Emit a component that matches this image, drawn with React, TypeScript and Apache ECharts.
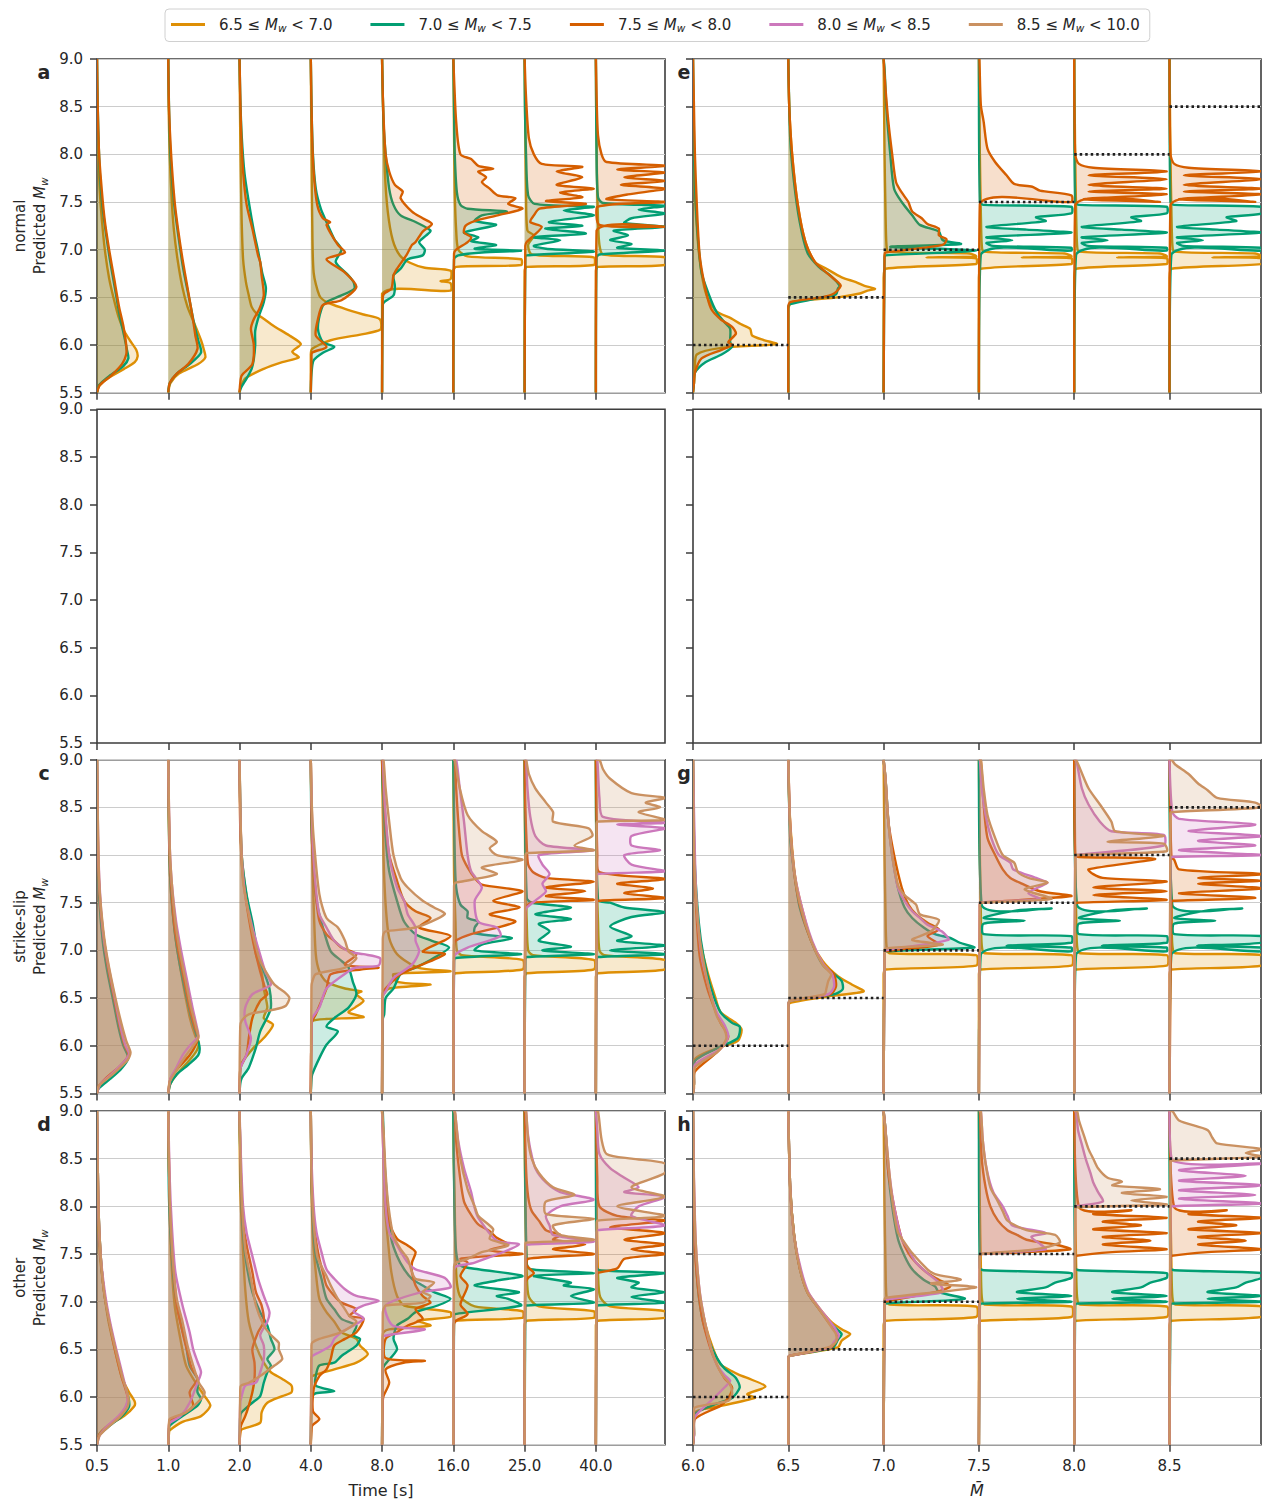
import React, { useEffect, useRef } from "react";
import * as echarts from "echarts";

type Curve = [number, number, number[]]; // [slot, class, flat list of (predicted Mw, density width)]

const CLASS_COLORS = ["#de8f05", "#029e73", "#d55e00", "#cc78bc", "#ca9161"];
const CLASS_BOUNDS = [["6.5", "7.0"], ["7.0", "7.5"], ["7.5", "8.0"], ["8.0", "8.5"], ["8.5", "10.0"]];
const TIME_LABELS = ["0.5", "1.0", "2.0", "4.0", "8.0", "16.0", "25.0", "40.0"];
const MAG_LABELS = ["6.0", "6.5", "7.0", "7.5", "8.0", "8.5"];
const TRUE_MAG = [6.0, 6.5, 7.0, 7.5, 8.0, 8.5];
const ROW_NAMES = ["normal", "", "strike-slip", "other"];
const LETTERS = [["a", "e"], ["", ""], ["c", "g"], ["d", "h"]];

// shared shapes of the magnitude panels
const sharpOrangeE = [6.7, 0, 6.8, 0.02, 6.85, 0.97, 6.91, 0.97, 6.92, 0.45, 6.93, 0.97, 6.96, 0.9, 6.98, 0.05, 7.05, 0.03, 7.4, 0.02, 8.0, 0.01];
const greenSpikeE = [6.95, 0.02, 6.99, 0.97, 7.02, 0.97, 7.04, 0.15, 7.07, 0.08, 7.1, 0.35, 7.13, 0.08, 7.18, 0.97, 7.21, 0.5, 7.24, 0.08, 7.3, 0.7, 7.34, 0.6, 7.38, 0.97, 7.45, 0.97, 7.47, 0.05, 7.5, 0.01];
const redSpikeE = [7.47, 0.01, 7.5, 0.9, 7.53, 0.1, 7.58, 0.97, 7.61, 0.15, 7.64, 0.97, 7.68, 0.15, 7.74, 0.97, 7.78, 0.15, 7.82, 0.97, 7.86, 0.2, 7.9, 0.05, 8.0, 0.01];
const sharpOrangeG = [6.75, 0, 6.8, 0.02, 6.84, 0.97, 6.95, 0.97, 6.97, 0.06, 7.05, 0.03, 7.4, 0.02, 8.0, 0.01];
const greenSpikeG = [6.96, 0.02, 6.99, 0.97, 7.03, 0.97, 7.05, 0.29, 7.08, 0.97, 7.15, 0.97, 7.17, 0.05, 7.28, 0.05, 7.31, 0.48, 7.34, 0.05, 7.42, 0.4, 7.44, 0.76, 7.47, 0.03];
const redSpikeG = [7.48, 0.01, 7.5, 0.03, 7.53, 0.97, 7.58, 0.2, 7.62, 0.97, 7.66, 0.2, 7.72, 0.97, 7.76, 0.3, 7.8, 0.2, 7.85, 0.15, 7.96, 0.85, 7.98, 0.05, 8.0, 0.01];
const greenBlockH = [6.95, 0.01, 6.98, 0.02, 7.0, 0.97, 7.03, 0.4, 7.06, 0.97, 7.1, 0.4, 7.15, 0.7, 7.2, 0.8, 7.25, 0.97, 7.3, 0.97, 7.33, 0.05, 7.35, 0.01];
const redSpikeH = [7.46, 0.01, 7.48, 0.02, 7.52, 0.4, 7.55, 0.97, 7.6, 0.3, 7.64, 0.8, 7.68, 0.3, 7.72, 0.97, 7.76, 0.2, 7.8, 0.7, 7.84, 0.3, 7.88, 0.97, 7.92, 0.2, 7.96, 0.6, 7.99, 0.05];
const sharpOrangeT = [6.72, 0, 6.76, 0.03, 6.8, 0.97, 6.9, 0.97, 6.95, 0.12, 7.0, 0.05, 7.3, 0.03, 7.8, 0.01];

const normalTime: Curve[] = [
  [0, 0, [5.57, 0.03, 5.65, 0.15, 5.75, 0.38, 5.82, 0.53, 5.88, 0.57, 5.95, 0.55, 6.05, 0.46, 6.15, 0.38, 6.3, 0.3, 6.5, 0.23, 6.7, 0.17, 7.0, 0.11, 7.3, 0.07, 7.6, 0.04, 8.0, 0.02, 8.5, 0.005]],
  [0, 1, [5.58, 0.03, 5.68, 0.18, 5.78, 0.37, 5.86, 0.44, 5.95, 0.42, 6.1, 0.38, 6.3, 0.32, 6.6, 0.25, 6.9, 0.18, 7.2, 0.12, 7.5, 0.07, 7.8, 0.04, 8.2, 0.02, 8.7, 0.005]],
  [0, 2, [5.58, 0.04, 5.68, 0.2, 5.8, 0.35, 5.9, 0.41, 6.0, 0.41, 6.2, 0.37, 6.4, 0.31, 6.7, 0.24, 7.0, 0.17, 7.3, 0.11, 7.6, 0.07, 8.0, 0.03, 8.5, 0.01]],
  [1, 0, [5.6, 0.03, 5.7, 0.15, 5.8, 0.42, 5.87, 0.52, 5.95, 0.5, 6.05, 0.46, 6.2, 0.38, 6.4, 0.27, 6.6, 0.2, 6.9, 0.13, 7.2, 0.08, 7.5, 0.05, 8.0, 0.02, 8.5, 0.005]],
  [1, 1, [5.6, 0.02, 5.7, 0.12, 5.8, 0.3, 5.92, 0.46, 6.05, 0.42, 6.2, 0.37, 6.5, 0.29, 6.8, 0.21, 7.1, 0.15, 7.5, 0.08, 8.0, 0.03, 8.5, 0.01]],
  [1, 2, [5.6, 0.02, 5.7, 0.12, 5.8, 0.28, 5.96, 0.41, 6.1, 0.38, 6.3, 0.34, 6.6, 0.27, 6.9, 0.2, 7.2, 0.14, 7.5, 0.09, 8.0, 0.04, 8.5, 0.01]],
  [2, 0, [5.55, 0.01, 5.65, 0.08, 5.75, 0.34, 5.82, 0.6, 5.87, 0.83, 5.93, 0.74, 6.01, 0.86, 6.1, 0.7, 6.2, 0.48, 6.27, 0.35, 6.33, 0.24, 6.4, 0.17, 6.52, 0.13, 6.66, 0.09, 6.9, 0.05, 7.3, 0.03, 7.7, 0.02, 8.2, 0.01]],
  [2, 1, [5.55, 0.02, 5.65, 0.1, 5.75, 0.17, 5.85, 0.2, 6.0, 0.22, 6.15, 0.22, 6.3, 0.27, 6.45, 0.34, 6.6, 0.37, 6.75, 0.32, 6.95, 0.27, 7.2, 0.2, 7.5, 0.13, 7.8, 0.07, 8.2, 0.03, 8.6, 0.01]],
  [2, 2, [5.6, 0.01, 5.68, 0.03, 5.8, 0.18, 6.0, 0.2, 6.17, 0.16, 6.27, 0.2, 6.38, 0.28, 6.52, 0.34, 6.73, 0.31, 6.87, 0.29, 6.94, 0.26, 7.22, 0.18, 7.47, 0.1, 7.82, 0.05, 8.3, 0.02]],
  [3, 0, [5.9, 0, 5.96, 0.02, 6.05, 0.28, 6.16, 0.97, 6.27, 0.97, 6.32, 0.74, 6.38, 0.48, 6.45, 0.22, 6.52, 0.12, 6.76, 0.04, 7.3, 0.02, 8.0, 0.01]],
  [3, 1, [5.7, 0.01, 5.84, 0.04, 5.92, 0.17, 5.98, 0.33, 6.03, 0.17, 6.17, 0.1, 6.38, 0.15, 6.45, 0.22, 6.52, 0.43, 6.59, 0.61, 6.66, 0.6, 6.73, 0.53, 6.87, 0.35, 7.0, 0.43, 7.11, 0.33, 7.29, 0.22, 7.43, 0.14, 7.64, 0.07, 8.0, 0.03, 8.5, 0.01]],
  [3, 2, [5.85, 0.01, 5.92, 0.02, 5.98, 0.22, 6.1, 0.07, 6.27, 0.1, 6.42, 0.17, 6.47, 0.43, 6.61, 0.64, 6.76, 0.48, 6.9, 0.22, 6.97, 0.48, 7.05, 0.38, 7.26, 0.22, 7.29, 0.27, 7.33, 0.17, 7.47, 0.09, 7.82, 0.04, 8.3, 0.015]],
  [4, 0, [6.54, 0, 6.57, 0.96, 6.65, 0.96, 6.67, 0.82, 6.69, 0.96, 6.78, 0.96, 6.81, 0.6, 6.86, 0.4, 6.94, 0.25, 7.1, 0.15, 7.4, 0.08, 7.8, 0.04, 8.3, 0.02]],
  [4, 1, [6.42, 0.01, 6.45, 0.03, 6.52, 0.16, 6.62, 0.18, 6.73, 0.16, 6.8, 0.26, 6.9, 0.36, 6.94, 0.57, 7.0, 0.6, 7.08, 0.52, 7.15, 0.62, 7.2, 0.68, 7.29, 0.47, 7.36, 0.26, 7.47, 0.16, 7.64, 0.1, 8.0, 0.05, 8.34, 0.02, 8.8, 0.005]],
  [4, 2, [6.5, 0.01, 6.54, 0.03, 6.59, 0.13, 6.73, 0.16, 6.8, 0.21, 6.94, 0.34, 7.05, 0.42, 7.08, 0.47, 7.19, 0.57, 7.27, 0.7, 7.33, 0.57, 7.4, 0.42, 7.54, 0.26, 7.61, 0.29, 7.68, 0.18, 7.82, 0.1, 8.0, 0.05, 8.5, 0.015]],
  [5, 0, [6.78, 0, 6.82, 0.04, 6.84, 0.95, 6.9, 0.95, 6.93, 0.2, 7.0, 0.07, 7.2, 0.04, 7.6, 0.02, 8.2, 0.01]],
  [5, 1, [6.9, 0.01, 6.94, 0.07, 6.97, 0.4, 6.99, 0.95, 7.01, 0.3, 7.05, 0.6, 7.09, 0.25, 7.13, 0.35, 7.18, 0.15, 7.26, 0.6, 7.3, 0.3, 7.36, 0.4, 7.4, 0.75, 7.43, 0.2, 7.47, 0.1, 7.6, 0.05, 8.0, 0.02, 8.5, 0.01]],
  [5, 2, [6.96, 0.01, 7.0, 0.04, 7.08, 0.2, 7.13, 0.25, 7.18, 0.15, 7.25, 0.17, 7.3, 0.3, 7.36, 0.62, 7.43, 0.97, 7.48, 0.77, 7.54, 0.87, 7.57, 0.62, 7.64, 0.51, 7.71, 0.4, 7.76, 0.46, 7.82, 0.35, 7.85, 0.56, 7.88, 0.35, 7.95, 0.25, 8.0, 0.1, 8.34, 0.04, 8.8, 0.01]],
  [6, 0, [6.78, 0, 6.82, 0.03, 6.84, 0.97, 6.92, 0.97, 6.95, 0.1, 7.05, 0.05, 7.15, 0.13, 7.2, 0.04, 7.6, 0.02, 8.2, 0.01]],
  [6, 1, [6.92, 0.01, 6.94, 0.03, 6.98, 0.97, 7.01, 0.3, 7.04, 0.13, 7.1, 0.5, 7.13, 0.13, 7.17, 0.86, 7.22, 0.29, 7.25, 0.81, 7.29, 0.34, 7.36, 0.97, 7.41, 0.55, 7.45, 0.97, 7.48, 0.14, 7.57, 0.05, 8.0, 0.02, 8.5, 0.005]],
  [6, 2, [7.04, 0.01, 7.08, 0.03, 7.15, 0.13, 7.24, 0.24, 7.29, 0.08, 7.36, 0.13, 7.43, 0.21, 7.48, 0.86, 7.51, 0.3, 7.55, 0.81, 7.6, 0.5, 7.64, 0.97, 7.68, 0.45, 7.76, 0.81, 7.82, 0.45, 7.87, 0.81, 7.9, 0.24, 8.0, 0.13, 8.17, 0.06, 8.6, 0.02]],
  [7, 0, [6.78, 0, 6.82, 0.03, 6.84, 0.97, 6.92, 0.97, 6.95, 0.1, 7.05, 0.05, 7.3, 0.03, 7.8, 0.015, 8.4, 0.005]],
  [7, 1, [6.92, 0.01, 6.95, 0.05, 6.99, 0.97, 7.02, 0.3, 7.06, 0.5, 7.1, 0.2, 7.15, 0.45, 7.2, 0.25, 7.24, 0.97, 7.28, 0.4, 7.33, 0.5, 7.38, 0.97, 7.42, 0.6, 7.46, 0.97, 7.49, 0.1, 7.55, 0.03, 8.0, 0.01]],
  [7, 2, [7.2, 0.01, 7.24, 0.97, 7.26, 0.05, 7.45, 0.02, 7.5, 0.97, 7.53, 0.15, 7.58, 0.45, 7.64, 0.97, 7.68, 0.35, 7.72, 0.97, 7.76, 0.4, 7.81, 0.97, 7.84, 0.3, 7.88, 0.97, 7.92, 0.15, 8.0, 0.08, 8.2, 0.03, 8.6, 0.01]],
];

const normalMag: Curve[] = [
  [0, 0, [5.6, 0.01, 5.75, 0.02, 5.9, 0.04, 5.97, 0.3, 6.01, 0.88, 6.05, 0.75, 6.1, 0.62, 6.17, 0.6, 6.22, 0.5, 6.28, 0.4, 6.35, 0.25, 6.5, 0.15, 6.75, 0.09, 7.1, 0.05, 7.6, 0.02, 8.2, 0.01]],
  [0, 1, [5.6, 0.01, 5.71, 0.02, 5.82, 0.13, 5.9, 0.3, 5.98, 0.41, 6.03, 0.39, 6.17, 0.39, 6.24, 0.33, 6.34, 0.25, 6.52, 0.17, 6.76, 0.09, 7.29, 0.04, 8.0, 0.01]],
  [0, 2, [5.6, 0.01, 5.71, 0.02, 5.86, 0.09, 5.95, 0.3, 6.0, 0.41, 6.03, 0.37, 6.12, 0.45, 6.19, 0.41, 6.27, 0.29, 6.38, 0.19, 6.59, 0.13, 6.94, 0.07, 7.47, 0.04, 8.0, 0.02, 8.5, 0.01]],
  [1, 0, [6.38, 0, 6.45, 0.04, 6.5, 0.52, 6.54, 0.75, 6.57, 0.83, 6.59, 0.91, 6.62, 0.8, 6.66, 0.71, 6.71, 0.56, 6.8, 0.4, 6.87, 0.28, 7.08, 0.18, 7.47, 0.1, 8.0, 0.04, 8.5, 0.01]],
  [1, 1, [6.4, 0, 6.43, 0.02, 6.5, 0.35, 6.53, 0.5, 6.59, 0.52, 6.62, 0.54, 6.73, 0.44, 6.82, 0.32, 6.97, 0.2, 7.29, 0.12, 7.71, 0.06, 8.17, 0.02]],
  [1, 2, [6.4, 0, 6.45, 0.02, 6.5, 0.35, 6.54, 0.48, 6.62, 0.55, 6.66, 0.52, 6.76, 0.4, 6.87, 0.28, 7.08, 0.18, 7.47, 0.1, 8.0, 0.04, 8.5, 0.01]],
  [2, 0, sharpOrangeE],
  [2, 1, [6.92, 0.01, 6.94, 0.02, 6.99, 0.97, 7.03, 0.07, 7.06, 0.81, 7.1, 0.62, 7.19, 0.58, 7.26, 0.38, 7.36, 0.3, 7.5, 0.19, 7.64, 0.11, 8.0, 0.07, 8.48, 0.03, 8.9, 0.01]],
  [2, 2, [6.95, 0.01, 6.97, 0.02, 7.05, 0.62, 7.11, 0.66, 7.15, 0.58, 7.22, 0.58, 7.27, 0.46, 7.33, 0.4, 7.4, 0.3, 7.5, 0.26, 7.6, 0.19, 7.71, 0.13, 8.0, 0.09, 8.34, 0.05, 8.69, 0.02]],
  [3, 0, sharpOrangeE],
  [3, 1, greenSpikeE],
  [3, 2, [7.48, 0.01, 7.5, 0.97, 7.57, 0.97, 7.62, 0.64, 7.66, 0.56, 7.69, 0.37, 7.78, 0.29, 7.92, 0.17, 8.06, 0.09, 8.34, 0.05, 8.52, 0.02, 9.0, 0.005]],
  [4, 0, sharpOrangeE],
  [4, 1, greenSpikeE],
  [4, 2, redSpikeE],
  [5, 0, sharpOrangeE],
  [5, 1, greenSpikeE],
  [5, 2, redSpikeE],
];

const strikeTime: Curve[] = [
  [0, 0, [5.55, 0.02, 5.65, 0.12, 5.75, 0.28, 5.85, 0.42, 5.9, 0.44, 6.0, 0.38, 6.2, 0.31, 6.5, 0.23, 6.8, 0.15, 7.1, 0.09, 7.5, 0.04, 8.0, 0.015]],
  [0, 1, [5.55, 0.02, 5.65, 0.18, 5.75, 0.33, 5.85, 0.43, 5.9, 0.43, 6.0, 0.37, 6.2, 0.3, 6.5, 0.22, 6.8, 0.14, 7.1, 0.08, 7.5, 0.035, 8.0, 0.01]],
  [0, 2, [5.57, 0.02, 5.67, 0.14, 5.77, 0.3, 5.87, 0.42, 5.92, 0.44, 6.0, 0.39, 6.2, 0.32, 6.5, 0.24, 6.8, 0.16, 7.1, 0.1, 7.5, 0.045, 8.0, 0.015]],
  [0, 3, [5.6, 0.05, 5.7, 0.2, 5.85, 0.4, 5.92, 0.45, 6.0, 0.4, 6.2, 0.33, 6.5, 0.25, 6.8, 0.17, 7.1, 0.1, 7.5, 0.05, 8.0, 0.02]],
  [0, 4, [5.58, 0.03, 5.7, 0.22, 5.85, 0.43, 5.93, 0.47, 6.05, 0.41, 6.3, 0.32, 6.6, 0.23, 6.9, 0.15, 7.2, 0.09, 7.6, 0.04, 8.0, 0.02]],
  [1, 0, [5.6, 0.03, 5.7, 0.12, 5.85, 0.3, 5.95, 0.4, 6.03, 0.43, 6.1, 0.38, 6.3, 0.3, 6.6, 0.22, 6.9, 0.15, 7.2, 0.09, 7.6, 0.04, 8.0, 0.015]],
  [1, 1, [5.6, 0.03, 5.7, 0.12, 5.8, 0.28, 5.9, 0.42, 5.98, 0.44, 6.1, 0.4, 6.3, 0.32, 6.6, 0.23, 6.9, 0.15, 7.2, 0.09, 7.6, 0.04, 8.0, 0.015]],
  [1, 2, [5.65, 0.03, 5.75, 0.12, 5.9, 0.3, 6.0, 0.38, 6.1, 0.42, 6.2, 0.37, 6.4, 0.3, 6.7, 0.22, 7.0, 0.14, 7.3, 0.08, 7.7, 0.04, 8.1, 0.015]],
  [1, 3, [5.65, 0.03, 5.78, 0.12, 5.9, 0.2, 6.0, 0.3, 6.1, 0.42, 6.2, 0.4, 6.4, 0.34, 6.7, 0.26, 7.0, 0.18, 7.3, 0.11, 7.7, 0.05, 8.1, 0.02]],
  [1, 4, [5.62, 0.02, 5.75, 0.12, 5.9, 0.25, 6.0, 0.35, 6.08, 0.42, 6.2, 0.39, 6.4, 0.32, 6.7, 0.24, 7.0, 0.16, 7.3, 0.1, 7.7, 0.05, 8.1, 0.02]],
  [2, 0, [5.75, 0.01, 5.82, 0.03, 5.98, 0.2, 6.08, 0.34, 6.22, 0.47, 6.29, 0.34, 6.4, 0.39, 6.6, 0.34, 6.78, 0.31, 6.96, 0.23, 7.3, 0.16, 7.66, 0.08, 8.0, 0.03, 8.5, 0.01]],
  [2, 1, [5.6, 0.01, 5.66, 0.03, 5.77, 0.13, 5.98, 0.23, 6.15, 0.29, 6.3, 0.39, 6.4, 0.44, 6.6, 0.42, 6.78, 0.34, 6.96, 0.26, 7.3, 0.18, 7.58, 0.1, 8.0, 0.03, 8.5, 0.01]],
  [2, 2, [5.75, 0.01, 5.8, 0.03, 5.91, 0.1, 6.08, 0.13, 6.29, 0.18, 6.47, 0.29, 6.54, 0.39, 6.6, 0.36, 6.78, 0.29, 6.96, 0.23, 7.13, 0.18, 7.48, 0.1, 7.83, 0.04, 8.3, 0.01]],
  [2, 3, [5.75, 0.01, 5.8, 0.03, 5.91, 0.1, 6.08, 0.16, 6.26, 0.08, 6.4, 0.08, 6.54, 0.18, 6.64, 0.44, 6.78, 0.36, 7.03, 0.26, 7.24, 0.18, 7.58, 0.08, 8.0, 0.03, 8.5, 0.01]],
  [2, 4, [6.2, 0.01, 6.26, 0.03, 6.33, 0.13, 6.38, 0.49, 6.42, 0.65, 6.5, 0.7, 6.55, 0.65, 6.64, 0.49, 6.75, 0.39, 6.89, 0.29, 7.1, 0.21, 7.38, 0.13, 7.72, 0.05, 8.2, 0.02]],
  [3, 0, [6.2, 0.01, 6.26, 0.02, 6.28, 0.22, 6.3, 0.74, 6.35, 0.53, 6.4, 0.62, 6.47, 0.74, 6.54, 0.64, 6.57, 0.71, 6.6, 0.48, 6.67, 0.22, 6.78, 0.12, 6.96, 0.07, 7.48, 0.04, 8.0, 0.02]],
  [3, 1, [5.65, 0.01, 5.7, 0.02, 5.87, 0.12, 6.01, 0.22, 6.15, 0.38, 6.2, 0.22, 6.29, 0.33, 6.4, 0.53, 6.54, 0.64, 6.67, 0.59, 6.82, 0.53, 6.89, 0.43, 6.99, 0.28, 7.24, 0.17, 7.48, 0.09, 7.83, 0.04, 8.3, 0.01]],
  [3, 2, [6.2, 0.01, 6.26, 0.02, 6.33, 0.07, 6.6, 0.22, 6.75, 0.28, 6.8, 0.7, 6.82, 0.95, 6.85, 0.48, 6.96, 0.64, 7.03, 0.43, 7.1, 0.33, 7.17, 0.22, 7.31, 0.12, 7.66, 0.06, 8.1, 0.02]],
  [3, 3, [6.22, 0.01, 6.29, 0.02, 6.4, 0.12, 6.6, 0.22, 6.78, 0.53, 6.82, 0.64, 6.84, 0.95, 6.92, 0.97, 6.96, 0.74, 6.99, 0.53, 7.1, 0.33, 7.24, 0.22, 7.38, 0.12, 7.66, 0.07, 8.1, 0.03, 8.6, 0.01]],
  [3, 4, [6.62, 0.01, 6.67, 0.02, 6.75, 0.07, 6.82, 0.48, 6.92, 0.64, 6.99, 0.53, 7.1, 0.48, 7.24, 0.38, 7.34, 0.22, 7.59, 0.12, 8.18, 0.04, 8.6, 0.01]],
  [4, 0, [6.5, 0.01, 6.54, 0.02, 6.6, 0.1, 6.64, 0.68, 6.67, 0.21, 6.75, 0.16, 6.78, 0.96, 6.82, 0.5, 6.96, 0.21, 7.13, 0.1, 7.48, 0.05, 8.0, 0.02]],
  [4, 1, [6.28, 0.01, 6.33, 0.03, 6.5, 0.05, 6.6, 0.16, 6.75, 0.26, 6.82, 0.47, 6.9, 0.68, 7.03, 0.94, 7.1, 0.7, 7.17, 0.47, 7.3, 0.31, 7.52, 0.21, 7.83, 0.1, 8.18, 0.05, 8.7, 0.01]],
  [4, 2, [6.55, 0.01, 6.6, 0.05, 6.75, 0.26, 6.96, 0.88, 6.99, 0.57, 7.15, 0.96, 7.24, 0.52, 7.34, 0.68, 7.41, 0.47, 7.52, 0.31, 7.73, 0.21, 8.0, 0.1, 8.35, 0.05, 8.8, 0.01]],
  [4, 3, [6.52, 0.01, 6.57, 0.05, 6.71, 0.16, 6.85, 0.42, 6.99, 0.52, 7.1, 0.47, 7.24, 0.47, 7.38, 0.36, 7.52, 0.31, 7.66, 0.21, 8.0, 0.1, 8.53, 0.04, 9.0, 0.01]],
  [4, 4, [7.12, 0.01, 7.17, 0.02, 7.2, 0.05, 7.24, 0.47, 7.38, 0.88, 7.45, 0.73, 7.52, 0.57, 7.66, 0.36, 7.76, 0.26, 8.0, 0.16, 8.35, 0.1, 8.7, 0.05, 9.0, 0.02]],
  [5, 0, sharpOrangeT],
  [5, 1, [6.88, 0.01, 6.92, 0.03, 6.96, 0.95, 7.0, 0.3, 7.06, 0.4, 7.13, 0.82, 7.18, 0.3, 7.24, 0.3, 7.3, 0.35, 7.34, 0.2, 7.41, 0.2, 7.48, 0.1, 7.66, 0.04, 8.0, 0.02]],
  [5, 2, [7.05, 0.01, 7.1, 0.03, 7.17, 0.25, 7.3, 0.87, 7.38, 0.51, 7.45, 0.93, 7.52, 0.56, 7.62, 0.97, 7.69, 0.4, 7.76, 0.3, 7.87, 0.2, 8.0, 0.12, 8.35, 0.07, 8.7, 0.04, 9.0, 0.02]],
  [5, 3, [6.92, 0.01, 6.96, 0.03, 7.03, 0.2, 7.15, 0.66, 7.24, 0.61, 7.3, 0.35, 7.52, 0.3, 7.66, 0.4, 7.83, 0.25, 8.0, 0.2, 8.35, 0.15, 8.7, 0.09, 9.0, 0.04]],
  [5, 4, [7.68, 0.01, 7.71, 0.03, 7.72, 0.1, 7.8, 0.61, 7.87, 0.4, 7.95, 0.97, 8.0, 0.61, 8.07, 0.51, 8.14, 0.61, 8.25, 0.4, 8.42, 0.2, 8.7, 0.09, 9.0, 0.02]],
  [6, 0, sharpOrangeT],
  [6, 1, [6.9, 0.01, 6.93, 0.03, 6.96, 0.97, 7.0, 0.25, 7.04, 0.65, 7.1, 0.2, 7.2, 0.35, 7.28, 0.2, 7.33, 0.65, 7.38, 0.15, 7.45, 0.65, 7.5, 0.1, 7.55, 0.03]],
  [6, 2, [7.45, 0.02, 7.5, 0.1, 7.53, 0.97, 7.57, 0.3, 7.62, 0.85, 7.66, 0.3, 7.72, 0.97, 7.76, 0.3, 7.82, 0.12, 7.9, 0.05, 8.1, 0.03, 8.5, 0.01]],
  [6, 3, [7.4, 0.01, 7.45, 0.03, 7.55, 0.2, 7.62, 0.3, 7.7, 0.25, 7.8, 0.35, 7.9, 0.25, 8.0, 0.2, 8.05, 0.97, 8.1, 0.3, 8.2, 0.15, 8.4, 0.08, 8.7, 0.04, 9.0, 0.02]],
  [6, 4, [7.98, 0.01, 8.02, 0.03, 8.05, 0.97, 8.1, 0.7, 8.2, 0.95, 8.28, 0.9, 8.35, 0.4, 8.45, 0.4, 8.55, 0.3, 8.7, 0.15, 8.85, 0.06, 9.0, 0.02]],
  [7, 0, sharpOrangeT],
  [7, 1, [6.9, 0.01, 6.93, 0.03, 6.96, 0.97, 7.0, 0.2, 7.05, 0.97, 7.1, 0.3, 7.15, 0.5, 7.25, 0.2, 7.35, 0.5, 7.4, 0.97, 7.45, 0.4, 7.5, 0.2, 7.53, 0.03]],
  [7, 2, [7.5, 0.01, 7.52, 0.03, 7.55, 0.97, 7.6, 0.4, 7.65, 0.8, 7.7, 0.3, 7.75, 0.97, 7.82, 0.05, 8.0, 0.02]],
  [7, 3, [7.75, 0.01, 7.8, 0.02, 7.83, 0.97, 7.9, 0.5, 8.0, 0.4, 8.05, 0.9, 8.1, 0.5, 8.2, 0.5, 8.28, 0.97, 8.32, 0.3, 8.34, 0.97, 8.4, 0.1, 8.6, 0.05, 9.0, 0.02]],
  [7, 4, [8.3, 0.01, 8.35, 0.02, 8.37, 0.97, 8.45, 0.6, 8.5, 0.9, 8.55, 0.7, 8.6, 0.97, 8.65, 0.5, 8.8, 0.2, 8.9, 0.1, 9.0, 0.05]],
];

const strikeMag: Curve[] = [
  [0, 0, [5.55, 0.01, 5.86, 0.02, 6.0, 0.33, 6.05, 0.47, 6.17, 0.51, 6.24, 0.45, 6.35, 0.29, 6.52, 0.23, 6.78, 0.15, 7.13, 0.07, 7.6, 0.03, 8.2, 0.01]],
  [0, 1, [5.6, 0.01, 5.84, 0.02, 5.99, 0.29, 6.08, 0.47, 6.2, 0.49, 6.24, 0.41, 6.35, 0.29, 6.6, 0.19, 6.94, 0.11, 7.3, 0.06, 8.0, 0.015]],
  [0, 2, [5.6, 0.01, 5.73, 0.02, 5.93, 0.25, 6.02, 0.33, 6.1, 0.37, 6.24, 0.29, 6.38, 0.23, 6.6, 0.15, 6.94, 0.07, 7.5, 0.03, 8.0, 0.01]],
  [0, 3, [5.6, 0.01, 5.8, 0.02, 5.97, 0.29, 6.1, 0.37, 6.22, 0.33, 6.35, 0.25, 6.6, 0.17, 6.94, 0.09, 7.47, 0.04, 8.0, 0.02]],
  [0, 4, [5.6, 0.01, 5.77, 0.02, 5.93, 0.25, 6.0, 0.31, 6.08, 0.35, 6.17, 0.33, 6.31, 0.25, 6.52, 0.19, 6.78, 0.13, 7.13, 0.07, 7.6, 0.03, 8.1, 0.01]],
  [1, 0, [6.4, 0, 6.45, 0.02, 6.52, 0.44, 6.57, 0.79, 6.64, 0.67, 6.73, 0.52, 6.89, 0.36, 7.1, 0.24, 7.38, 0.16, 7.72, 0.08, 8.07, 0.04, 8.53, 0.01]],
  [1, 1, [6.42, 0, 6.47, 0.02, 6.54, 0.48, 6.59, 0.57, 6.68, 0.56, 6.75, 0.48, 6.85, 0.36, 7.1, 0.24, 7.45, 0.12, 7.83, 0.06, 8.18, 0.02]],
  [1, 2, [6.42, 0, 6.47, 0.02, 6.54, 0.44, 6.62, 0.5, 6.75, 0.48, 6.83, 0.38, 7.1, 0.24, 7.48, 0.12, 7.83, 0.06, 8.3, 0.02]],
  [1, 3, [6.42, 0, 6.47, 0.02, 6.54, 0.42, 6.62, 0.48, 6.75, 0.46, 6.85, 0.37, 7.1, 0.25, 7.5, 0.13, 7.85, 0.06, 8.3, 0.02]],
  [1, 4, [6.42, 0, 6.47, 0.02, 6.54, 0.38, 6.6, 0.4, 6.68, 0.42, 6.75, 0.45, 6.85, 0.36, 7.1, 0.24, 7.5, 0.12, 7.85, 0.06, 8.3, 0.02, 8.8, 0.005]],
  [2, 0, sharpOrangeG],
  [2, 1, [6.95, 0.01, 6.99, 0.02, 7.03, 0.95, 7.08, 0.8, 7.13, 0.7, 7.17, 0.54, 7.24, 0.42, 7.34, 0.3, 7.45, 0.22, 7.66, 0.15, 8.0, 0.09, 8.35, 0.05, 8.8, 0.02]],
  [2, 2, [6.95, 0.01, 6.99, 0.02, 7.06, 0.58, 7.15, 0.46, 7.22, 0.58, 7.29, 0.46, 7.38, 0.34, 7.48, 0.26, 7.66, 0.19, 8.0, 0.11, 8.35, 0.05, 8.8, 0.02]],
  [2, 3, [6.96, 0.01, 7.0, 0.02, 7.11, 0.68, 7.2, 0.61, 7.27, 0.46, 7.34, 0.38, 7.41, 0.3, 7.52, 0.22, 7.66, 0.15, 8.0, 0.09, 8.35, 0.05, 8.8, 0.02]],
  [2, 4, [6.98, 0.01, 7.02, 0.02, 7.06, 0.62, 7.11, 0.3, 7.2, 0.5, 7.32, 0.58, 7.38, 0.38, 7.48, 0.34, 7.58, 0.22, 7.69, 0.15, 8.0, 0.09, 8.35, 0.05, 8.8, 0.02]],
  [3, 0, sharpOrangeG],
  [3, 1, greenSpikeG],
  [3, 2, [7.48, 0.01, 7.5, 0.02, 7.57, 0.97, 7.62, 0.64, 7.7, 0.45, 7.76, 0.33, 7.85, 0.25, 8.0, 0.17, 8.18, 0.09, 8.53, 0.05, 9.0, 0.02]],
  [3, 3, [7.48, 0.01, 7.5, 0.02, 7.54, 0.64, 7.6, 0.52, 7.66, 0.62, 7.71, 0.72, 7.76, 0.6, 7.85, 0.36, 7.92, 0.33, 8.0, 0.21, 8.18, 0.13, 8.42, 0.07, 8.7, 0.03, 9.0, 0.01]],
  [3, 4, [7.48, 0.01, 7.5, 0.02, 7.54, 0.76, 7.64, 0.48, 7.71, 0.72, 7.76, 0.52, 7.82, 0.41, 7.92, 0.37, 8.0, 0.25, 8.18, 0.17, 8.42, 0.09, 8.7, 0.05, 9.0, 0.02]],
  [4, 0, sharpOrangeG],
  [4, 1, greenSpikeG],
  [4, 2, redSpikeG],
  [4, 3, [7.98, 0.01, 8.0, 0.03, 8.1, 0.94, 8.21, 0.94, 8.25, 0.39, 8.35, 0.27, 8.53, 0.15, 8.7, 0.08, 9.0, 0.02]],
  [4, 4, [7.98, 0.01, 8.0, 0.02, 8.04, 0.97, 8.12, 0.94, 8.14, 0.35, 8.2, 0.94, 8.25, 0.43, 8.35, 0.39, 8.53, 0.27, 8.7, 0.15, 9.0, 0.02]],
  [5, 0, sharpOrangeG],
  [5, 1, greenSpikeG],
  [5, 2, [7.5, 0.02, 7.52, 0.03, 7.55, 0.9, 7.6, 0.1, 7.65, 0.97, 7.7, 0.3, 7.73, 0.97, 7.76, 0.3, 7.8, 0.97, 7.85, 0.1, 7.95, 0.05, 7.98, 0.02]],
  [5, 3, [7.96, 0.01, 7.98, 0.02, 8.0, 0.97, 8.05, 0.1, 8.1, 0.9, 8.15, 0.3, 8.2, 0.97, 8.25, 0.2, 8.32, 0.9, 8.38, 0.1, 8.45, 0.03]],
  [5, 4, [8.43, 0.01, 8.45, 0.02, 8.5, 0.97, 8.55, 0.9, 8.6, 0.5, 8.68, 0.4, 8.75, 0.3, 8.85, 0.2, 8.95, 0.06, 9.0, 0.02]],
];

const otherTime: Curve[] = [
  [0, 0, [5.6, 0.02, 5.7, 0.15, 5.8, 0.38, 5.9, 0.52, 5.95, 0.53, 6.05, 0.45, 6.2, 0.35, 6.5, 0.25, 6.8, 0.16, 7.1, 0.1, 7.5, 0.04, 8.0, 0.01]],
  [0, 1, [5.6, 0.03, 5.7, 0.18, 5.8, 0.35, 5.9, 0.45, 6.0, 0.44, 6.2, 0.36, 6.5, 0.26, 6.8, 0.17, 7.1, 0.1, 7.5, 0.05, 8.0, 0.02]],
  [0, 2, [5.6, 0.03, 5.7, 0.17, 5.8, 0.33, 5.9, 0.42, 6.0, 0.43, 6.2, 0.35, 6.5, 0.25, 6.8, 0.17, 7.1, 0.1, 7.5, 0.05, 8.0, 0.02]],
  [0, 3, [5.6, 0.04, 5.7, 0.15, 5.8, 0.3, 5.9, 0.4, 6.0, 0.43, 6.2, 0.37, 6.5, 0.27, 6.8, 0.18, 7.1, 0.11, 7.5, 0.05, 8.0, 0.02]],
  [0, 4, [5.6, 0.04, 5.7, 0.18, 5.8, 0.33, 5.9, 0.43, 6.0, 0.44, 6.2, 0.36, 6.5, 0.26, 6.8, 0.17, 7.1, 0.1, 7.5, 0.05, 8.0, 0.02]],
  [1, 0, [5.62, 0.01, 5.65, 0.02, 5.74, 0.2, 5.8, 0.46, 5.91, 0.59, 6.01, 0.51, 6.12, 0.41, 6.33, 0.25, 6.61, 0.17, 6.96, 0.09, 7.48, 0.04, 8.0, 0.02]],
  [1, 1, [5.66, 0.01, 5.7, 0.02, 5.8, 0.2, 5.91, 0.41, 5.98, 0.46, 6.05, 0.41, 6.19, 0.41, 6.33, 0.3, 6.54, 0.25, 6.79, 0.17, 7.13, 0.09, 7.6, 0.04, 8.1, 0.01]],
  [1, 2, [5.7, 0.01, 5.75, 0.02, 5.84, 0.25, 5.91, 0.35, 6.05, 0.3, 6.19, 0.41, 6.3, 0.33, 6.47, 0.27, 6.68, 0.2, 6.96, 0.12, 7.38, 0.07, 7.9, 0.03, 8.4, 0.01]],
  [1, 3, [5.7, 0.01, 5.73, 0.02, 5.8, 0.17, 5.94, 0.3, 6.15, 0.41, 6.26, 0.46, 6.37, 0.41, 6.5, 0.35, 6.68, 0.3, 6.96, 0.2, 7.31, 0.1, 7.8, 0.05, 8.3, 0.02]],
  [1, 4, [5.72, 0.01, 5.77, 0.02, 5.84, 0.25, 5.98, 0.46, 6.05, 0.51, 6.15, 0.43, 6.33, 0.35, 6.54, 0.27, 6.79, 0.2, 7.03, 0.12, 7.38, 0.07, 7.9, 0.03, 8.4, 0.01]],
  [2, 0, [5.62, 0.01, 5.66, 0.03, 5.73, 0.29, 5.84, 0.31, 5.94, 0.39, 6.01, 0.6, 6.05, 0.73, 6.12, 0.73, 6.19, 0.6, 6.26, 0.44, 6.36, 0.34, 6.54, 0.23, 6.79, 0.13, 7.13, 0.08, 7.66, 0.04, 8.2, 0.01]],
  [2, 1, [5.8, 0.01, 5.84, 0.03, 5.94, 0.18, 6.01, 0.29, 6.15, 0.34, 6.26, 0.39, 6.33, 0.44, 6.4, 0.39, 6.5, 0.49, 6.61, 0.44, 6.75, 0.39, 6.89, 0.29, 7.1, 0.18, 7.38, 0.1, 7.72, 0.05, 8.2, 0.02]],
  [2, 2, [5.65, 0.01, 5.7, 0.02, 5.8, 0.08, 5.91, 0.13, 6.05, 0.18, 6.19, 0.21, 6.36, 0.21, 6.5, 0.18, 6.68, 0.26, 6.79, 0.34, 6.96, 0.31, 7.1, 0.23, 7.31, 0.18, 7.59, 0.1, 7.83, 0.05, 8.3, 0.02]],
  [2, 3, [5.95, 0.01, 5.98, 0.02, 6.12, 0.08, 6.15, 0.23, 6.26, 0.29, 6.4, 0.34, 6.54, 0.34, 6.65, 0.29, 6.79, 0.39, 6.89, 0.42, 7.06, 0.34, 7.24, 0.26, 7.48, 0.18, 7.72, 0.1, 8.0, 0.05, 8.5, 0.02]],
  [2, 4, [6.08, 0.01, 6.12, 0.02, 6.15, 0.13, 6.22, 0.29, 6.33, 0.49, 6.4, 0.6, 6.5, 0.55, 6.57, 0.55, 6.65, 0.44, 6.75, 0.34, 6.96, 0.23, 7.24, 0.16, 7.55, 0.08, 8.1, 0.03, 8.6, 0.01]],
  [3, 0, [6.18, 0.01, 6.22, 0.02, 6.29, 0.33, 6.36, 0.64, 6.45, 0.8, 6.54, 0.69, 6.61, 0.64, 6.68, 0.43, 6.79, 0.33, 6.89, 0.22, 7.03, 0.12, 7.31, 0.07, 7.66, 0.03, 8.2, 0.01]],
  [3, 1, [5.98, 0.01, 6.01, 0.02, 6.04, 0.07, 6.06, 0.33, 6.12, 0.07, 6.22, 0.07, 6.33, 0.12, 6.36, 0.33, 6.43, 0.43, 6.54, 0.64, 6.61, 0.69, 6.65, 0.59, 6.75, 0.64, 6.82, 0.43, 6.92, 0.33, 7.03, 0.22, 7.24, 0.15, 7.48, 0.07, 7.83, 0.03, 8.3, 0.01]],
  [3, 2, [5.65, 0.01, 5.7, 0.02, 5.77, 0.12, 5.85, 0.03, 6.08, 0.04, 6.22, 0.12, 6.29, 0.22, 6.4, 0.28, 6.54, 0.33, 6.61, 0.48, 6.68, 0.64, 6.82, 0.74, 6.85, 0.54, 6.92, 0.64, 6.99, 0.43, 7.06, 0.33, 7.17, 0.22, 7.31, 0.17, 7.45, 0.12, 7.66, 0.07, 8.1, 0.02]],
  [3, 3, [6.4, 0.01, 6.43, 0.02, 6.47, 0.12, 6.54, 0.28, 6.61, 0.33, 6.68, 0.43, 6.82, 0.74, 6.9, 0.6, 6.96, 0.74, 7.01, 0.95, 7.06, 0.64, 7.13, 0.48, 7.24, 0.33, 7.34, 0.22, 7.52, 0.15, 7.73, 0.08, 8.0, 0.04, 8.5, 0.01]],
  [3, 4, [6.54, 0.01, 6.57, 0.02, 6.61, 0.12, 6.68, 0.43, 6.79, 0.64, 6.85, 0.54, 6.92, 0.48, 7.03, 0.38, 7.17, 0.28, 7.27, 0.22, 7.34, 0.17, 7.48, 0.09, 7.83, 0.04, 8.3, 0.01]],
  [4, 0, [6.64, 0.01, 6.68, 0.02, 6.71, 0.1, 6.75, 0.68, 6.8, 0.5, 6.84, 0.96, 6.89, 0.96, 6.96, 0.31, 7.06, 0.21, 7.31, 0.13, 7.66, 0.08, 8.0, 0.04, 8.5, 0.02]],
  [4, 1, [6.28, 0.01, 6.33, 0.03, 6.5, 0.21, 6.61, 0.16, 6.75, 0.21, 6.82, 0.36, 6.89, 0.47, 6.96, 0.78, 7.03, 0.96, 7.1, 0.73, 7.17, 0.57, 7.24, 0.42, 7.34, 0.31, 7.48, 0.21, 7.66, 0.13, 8.0, 0.08, 8.53, 0.03, 9.0, 0.01]],
  [4, 2, [5.96, 0.01, 6.01, 0.02, 6.15, 0.1, 6.29, 0.05, 6.36, 0.3, 6.38, 0.6, 6.41, 0.05, 6.61, 0.05, 6.68, 0.21, 6.75, 0.36, 6.82, 0.57, 6.92, 0.47, 6.99, 0.68, 7.06, 0.57, 7.17, 0.47, 7.31, 0.42, 7.41, 0.42, 7.52, 0.47, 7.59, 0.36, 7.66, 0.21, 7.83, 0.1, 8.18, 0.05, 8.7, 0.02]],
  [4, 3, [6.6, 0.01, 6.64, 0.02, 6.71, 0.6, 6.75, 0.15, 6.96, 0.05, 7.1, 0.55, 7.15, 0.96, 7.25, 0.88, 7.34, 0.47, 7.41, 0.36, 7.59, 0.21, 7.73, 0.1, 8.0, 0.05, 8.5, 0.02]],
  [4, 4, [6.88, 0.01, 6.92, 0.02, 6.96, 0.05, 6.99, 0.57, 7.06, 0.68, 7.1, 0.57, 7.2, 0.73, 7.24, 0.47, 7.31, 0.42, 7.45, 0.36, 7.55, 0.26, 7.69, 0.16, 8.0, 0.09, 8.35, 0.05, 8.8, 0.02]],
  [5, 0, [6.75, 0, 6.8, 0.03, 6.83, 0.97, 6.9, 0.97, 6.95, 0.3, 7.05, 0.1, 7.2, 0.05, 7.5, 0.03, 8.0, 0.02, 8.5, 0.005]],
  [5, 1, [6.84, 0.01, 6.87, 0.02, 6.96, 0.95, 7.03, 0.77, 7.06, 0.61, 7.1, 0.92, 7.17, 0.3, 7.22, 0.6, 7.27, 0.97, 7.34, 0.35, 7.38, 0.1, 7.52, 0.04, 8.0, 0.015]],
  [5, 2, [6.76, 0.01, 6.8, 0.04, 6.87, 0.2, 6.97, 0.1, 7.17, 0.2, 7.27, 0.1, 7.41, 0.2, 7.45, 0.1, 7.47, 0.35, 7.5, 0.97, 7.54, 0.51, 7.6, 0.77, 7.67, 0.61, 7.74, 0.51, 7.81, 0.35, 7.91, 0.25, 8.05, 0.15, 8.33, 0.09, 8.68, 0.04, 9.0, 0.02]],
  [5, 3, [7.33, 0.01, 7.37, 0.04, 7.41, 0.3, 7.6, 0.92, 7.64, 0.61, 7.88, 0.35, 7.98, 0.3, 8.15, 0.25, 8.4, 0.15, 8.68, 0.07, 9.0, 0.02]],
  [5, 4, [7.37, 0.01, 7.41, 0.04, 7.45, 0.2, 7.52, 0.4, 7.59, 0.77, 7.66, 0.51, 7.76, 0.56, 7.9, 0.35, 8.0, 0.3, 8.18, 0.2, 8.53, 0.09, 8.87, 0.04, 9.0, 0.02]],
  [6, 0, [6.75, 0, 6.8, 0.03, 6.83, 0.97, 6.9, 0.97, 6.95, 0.2, 7.05, 0.06, 7.3, 0.03, 7.8, 0.015, 8.4, 0.005]],
  [6, 1, [6.92, 0.01, 6.96, 0.02, 6.99, 0.97, 7.06, 0.65, 7.13, 0.97, 7.17, 0.55, 7.2, 0.65, 7.27, 0.13, 7.3, 0.97, 7.34, 0.08, 7.4, 0.03]],
  [6, 2, [7.2, 0.01, 7.25, 0.05, 7.3, 0.13, 7.38, 0.03, 7.45, 0.05, 7.5, 0.97, 7.55, 0.4, 7.6, 0.85, 7.65, 0.4, 7.7, 0.5, 7.75, 0.3, 7.85, 0.2, 7.95, 0.1, 8.1, 0.05, 8.4, 0.02]],
  [6, 3, [7.57, 0.01, 7.6, 0.03, 7.63, 0.97, 7.7, 0.4, 7.8, 0.35, 7.9, 0.3, 8.0, 0.5, 8.07, 0.97, 8.15, 0.5, 8.25, 0.3, 8.4, 0.15, 8.6, 0.08, 8.8, 0.04, 9.0, 0.02]],
  [6, 4, [7.6, 0.01, 7.62, 0.02, 7.65, 0.97, 7.7, 0.5, 7.8, 0.4, 7.87, 0.97, 7.92, 0.3, 8.05, 0.3, 8.12, 0.7, 8.2, 0.4, 8.35, 0.2, 8.5, 0.1, 8.7, 0.05, 9.0, 0.02]],
  [7, 0, [6.75, 0, 6.8, 0.03, 6.83, 0.97, 6.9, 0.97, 6.95, 0.2, 7.05, 0.06, 7.3, 0.03, 7.8, 0.015, 8.4, 0.005]],
  [7, 1, [6.92, 0.01, 6.96, 0.02, 6.99, 0.97, 7.05, 0.5, 7.1, 0.97, 7.15, 0.5, 7.2, 0.6, 7.25, 0.3, 7.3, 0.97, 7.33, 0.05, 7.36, 0.01]],
  [7, 2, [7.28, 0.01, 7.3, 0.02, 7.35, 0.3, 7.45, 0.4, 7.5, 0.97, 7.55, 0.5, 7.6, 0.97, 7.65, 0.4, 7.72, 0.97, 7.78, 0.2, 7.85, 0.97, 7.9, 0.3, 8.0, 0.05, 8.3, 0.02]],
  [7, 3, [7.72, 0.01, 7.75, 0.02, 7.8, 0.97, 7.9, 0.5, 8.0, 0.6, 8.1, 0.97, 8.15, 0.4, 8.2, 0.6, 8.3, 0.4, 8.4, 0.2, 8.55, 0.05, 8.8, 0.02]],
  [7, 4, [7.82, 0.01, 7.85, 0.02, 7.9, 0.97, 8.0, 0.3, 8.1, 0.97, 8.2, 0.5, 8.35, 0.97, 8.45, 0.97, 8.5, 0.5, 8.55, 0.15, 8.7, 0.08, 9.0, 0.03]],
];

const otherMag: Curve[] = [
  [0, 0, [5.6, 0.01, 5.84, 0.02, 5.89, 0.21, 5.99, 0.65, 6.03, 0.57, 6.11, 0.76, 6.2, 0.57, 6.23, 0.49, 6.27, 0.41, 6.34, 0.29, 6.51, 0.21, 6.76, 0.13, 7.11, 0.06, 7.6, 0.02, 8.2, 0.01]],
  [0, 1, [5.6, 0.01, 5.82, 0.02, 5.93, 0.25, 5.99, 0.41, 6.1, 0.49, 6.2, 0.45, 6.3, 0.33, 6.41, 0.25, 6.58, 0.17, 6.86, 0.09, 7.28, 0.04, 8.0, 0.01]],
  [0, 2, [5.6, 0.01, 5.77, 0.02, 5.91, 0.29, 5.99, 0.37, 6.1, 0.41, 6.2, 0.33, 6.34, 0.25, 6.55, 0.17, 6.86, 0.09, 7.4, 0.03, 8.0, 0.01]],
  [0, 3, [5.6, 0.01, 5.79, 0.02, 5.98, 0.21, 6.1, 0.33, 6.17, 0.39, 6.23, 0.33, 6.34, 0.25, 6.51, 0.19, 6.76, 0.13, 7.11, 0.07, 7.6, 0.03, 8.3, 0.01]],
  [0, 4, [5.8, 0.01, 5.89, 0.02, 5.96, 0.37, 6.03, 0.41, 6.13, 0.39, 6.23, 0.31, 6.34, 0.25, 6.51, 0.19, 6.76, 0.13, 7.1, 0.07, 7.6, 0.03, 8.2, 0.01]],
  [1, 0, [6.4, 0, 6.43, 0.01, 6.52, 0.52, 6.59, 0.56, 6.66, 0.65, 6.71, 0.56, 6.8, 0.44, 6.94, 0.32, 7.11, 0.2, 7.36, 0.12, 7.71, 0.06, 8.17, 0.02]],
  [1, 1, [6.4, 0, 6.43, 0.01, 6.52, 0.47, 6.6, 0.52, 6.66, 0.56, 6.72, 0.5, 6.8, 0.42, 6.94, 0.31, 7.1, 0.2, 7.35, 0.12, 7.7, 0.06, 8.2, 0.02]],
  [1, 2, [6.4, 0, 6.43, 0.01, 6.52, 0.45, 6.58, 0.5, 6.64, 0.52, 6.72, 0.47, 6.8, 0.41, 6.94, 0.31, 7.1, 0.2, 7.35, 0.12, 7.7, 0.06, 8.2, 0.02]],
  [1, 3, [6.4, 0, 6.43, 0.01, 6.52, 0.44, 6.58, 0.48, 6.64, 0.53, 6.72, 0.49, 6.8, 0.43, 6.94, 0.32, 7.1, 0.21, 7.35, 0.13, 7.7, 0.06, 8.2, 0.02]],
  [1, 4, [6.4, 0, 6.43, 0.01, 6.52, 0.42, 6.58, 0.5, 6.66, 0.5, 6.72, 0.46, 6.8, 0.41, 6.94, 0.31, 7.1, 0.2, 7.35, 0.12, 7.7, 0.06, 8.2, 0.02]],
  [2, 0, sharpOrangeG],
  [2, 1, [6.95, 0.01, 6.98, 0.02, 7.03, 0.85, 7.1, 0.58, 7.16, 0.54, 7.23, 0.42, 7.34, 0.3, 7.48, 0.22, 7.66, 0.15, 8.0, 0.09, 8.35, 0.05, 8.8, 0.02]],
  [2, 2, [6.97, 0.01, 7.0, 0.02, 7.1, 0.54, 7.16, 0.7, 7.23, 0.58, 7.3, 0.46, 7.41, 0.34, 7.51, 0.26, 7.66, 0.19, 8.0, 0.11, 8.35, 0.05, 8.8, 0.02]],
  [2, 3, [6.99, 0.01, 7.02, 0.02, 7.1, 0.62, 7.2, 0.58, 7.3, 0.46, 7.41, 0.34, 7.55, 0.26, 7.66, 0.19, 8.0, 0.11, 8.35, 0.06, 8.8, 0.02]],
  [2, 4, [7.01, 0.01, 7.04, 0.02, 7.15, 0.97, 7.19, 0.5, 7.23, 0.81, 7.29, 0.54, 7.34, 0.46, 7.51, 0.3, 7.62, 0.22, 7.73, 0.15, 8.0, 0.1, 8.35, 0.06, 8.8, 0.02]],
  [3, 0, sharpOrangeG],
  [3, 1, greenBlockH],
  [3, 2, [7.48, 0.01, 7.5, 0.02, 7.52, 0.5, 7.55, 0.96, 7.6, 0.8, 7.65, 0.5, 7.7, 0.4, 7.75, 0.3, 7.85, 0.2, 8.0, 0.12, 8.2, 0.07, 8.5, 0.03, 9.0, 0.01]],
  [3, 3, [7.48, 0.01, 7.5, 0.02, 7.55, 0.7, 7.6, 0.65, 7.68, 0.55, 7.72, 0.7, 7.8, 0.35, 7.9, 0.3, 8.0, 0.25, 8.15, 0.15, 8.4, 0.08, 8.7, 0.04, 9.0, 0.02]],
  [3, 4, [7.48, 0.01, 7.5, 0.02, 7.55, 0.6, 7.62, 0.85, 7.7, 0.8, 7.75, 0.5, 7.85, 0.3, 7.95, 0.25, 8.05, 0.2, 8.2, 0.12, 8.45, 0.07, 8.7, 0.04, 9.0, 0.02]],
  [4, 0, sharpOrangeG],
  [4, 1, greenBlockH],
  [4, 2, redSpikeH],
  [4, 3, [7.97, 0.01, 8.0, 0.02, 8.05, 0.3, 8.15, 0.25, 8.25, 0.2, 8.35, 0.17, 8.5, 0.12, 8.65, 0.08, 8.8, 0.04, 9.0, 0.02]],
  [4, 4, [7.97, 0.01, 7.99, 0.02, 8.02, 0.97, 8.06, 0.6, 8.1, 0.97, 8.14, 0.5, 8.18, 0.9, 8.22, 0.4, 8.26, 0.5, 8.3, 0.35, 8.4, 0.25, 8.5, 0.2, 8.6, 0.15, 8.75, 0.1, 8.9, 0.05, 9.0, 0.03]],
  [5, 0, sharpOrangeG],
  [5, 1, greenBlockH],
  [5, 2, redSpikeH],
  [5, 3, [7.97, 0.01, 8.0, 0.02, 8.03, 0.97, 8.08, 0.1, 8.12, 0.9, 8.17, 0.1, 8.22, 0.97, 8.27, 0.1, 8.32, 0.8, 8.38, 0.1, 8.45, 0.97, 8.48, 0.03]],
  [5, 4, [8.46, 0.01, 8.48, 0.02, 8.52, 0.97, 8.56, 0.8, 8.6, 0.97, 8.66, 0.5, 8.72, 0.45, 8.8, 0.4, 8.9, 0.1, 9.0, 0.03]],
];

const PANEL_CURVES: Curve[][][] = [
  [normalTime, normalMag],
  [[], []],
  [strikeTime, strikeMag],
  [otherTime, otherMag],
];

const FONT = "DejaVu Sans";
const TXT = "#262626";
const SPINE = "#3d3d3d";
const ROW_TOPS = [59, 409.3, 759.7, 1111];
const ROW_H = 333.7;
const COL_LEFT = [97, 693];
const COL_W = 568;
const XMAX = [7.97, 5.96];
const SMOOTH = 0.25;

function rgba(hex: string, a: number) {
  const n = parseInt(hex.slice(1), 16);
  return `rgba(${(n >> 16) & 255},${(n >> 8) & 255},${n & 255},${a})`;
}

function buildOption() {
  const grid: any[] = [];
  const xAxis: any[] = [];
  const yAxis: any[] = [];
  const series: any[] = [];
  const graphic: any[] = [];

  for (let r = 0; r < 4; r++) {
    for (let c = 0; c < 2; c++) {
      const gi = r * 2 + c;
      const labels = c === 0 ? TIME_LABELS : MAG_LABELS;
      const tickVals = labels.map((_, i) => i);
      grid.push({
        left: COL_LEFT[c], top: ROW_TOPS[r], width: COL_W, height: ROW_H,
        show: true, borderColor: SPINE, borderWidth: 1.6, backgroundColor: "transparent",
      });
      xAxis.push({
        type: "value", gridIndex: gi, min: 0, max: XMAX[c],
        axisLine: { show: false, onZero: false },
        splitLine: { show: false },
        axisTick: { show: true, length: 7, lineStyle: { color: SPINE, width: 1.5 }, customValues: tickVals },
        axisLabel: {
          show: r === 3, customValues: tickVals,
          formatter: (v: number) => labels[Math.round(v)] ?? "",
          fontFamily: FONT, fontSize: 15, color: TXT, margin: 14,
        },
        name: r === 3 ? (c === 0 ? "Time [s]" : "M\u0304") : "",
        nameLocation: "middle", nameGap: 38,
        nameTextStyle: { fontFamily: FONT, fontSize: 16, color: TXT, fontStyle: c === 1 ? "italic" : "normal" },
      });
      yAxis.push({
        type: "value", gridIndex: gi, min: 5.5, max: 9.0, interval: 0.5,
        axisLine: { show: false, onZero: false },
        axisTick: { show: true, length: 7, lineStyle: { color: SPINE, width: 1.5 } },
        axisLabel: { show: c === 0, formatter: (v: number) => v.toFixed(1), fontFamily: FONT, fontSize: 15, color: TXT, margin: 14 },
        splitLine: { show: r !== 1, lineStyle: { color: "#cccccc", width: 1.2 } },
      });

      const curves = PANEL_CURVES[r][c];
      for (let k = 0; k < 5; k++) {
        const items = curves.filter((cv) => cv[1] === k);
        if (!items.length) continue;
        const color = CLASS_COLORS[k];
        series.push({
          type: "custom", name: "c" + k, xAxisIndex: gi, yAxisIndex: gi, clip: true,
          itemStyle: { color },
          data: items.map((cv, i) => [cv[0], 7.25, i]),
          encode: { x: 0, y: 1 },
          renderItem: (params: any, api: any) => {
            const cv = items[params.dataIndex];
            const slot = cv[0];
            const flat = cv[2];
            const pts: number[][] = [api.coord([slot, 5.5])];
            for (let j = 0; j < flat.length; j += 2) pts.push(api.coord([slot + flat[j + 1], flat[j]]));
            pts.push(api.coord([slot, 9.0]));
            const lo = api.coord([slot, 9.0]);
            const hi = api.coord([slot + 1, 5.5]);
            const constraint = [[lo[0], lo[1]], [hi[0], hi[1]]];
            return {
              type: "group",
              children: [
                { type: "polygon", shape: { points: pts, smooth: SMOOTH, smoothConstraint: constraint }, style: { fill: rgba(color, 0.2), stroke: "none" } },
                { type: "polyline", shape: { points: pts, smooth: SMOOTH, smoothConstraint: constraint }, style: { stroke: color, lineWidth: 2.4, fill: "none", lineJoin: "round" } },
              ],
            };
          },
        });
      }

      if (c === 1 && r !== 1) {
        series.push({
          type: "custom", name: "truth", xAxisIndex: gi, yAxisIndex: gi, clip: true,
          data: TRUE_MAG.map((m, k) => [k, m]),
          encode: { x: 0, y: 1 },
          renderItem: (params: any, api: any) => {
            const k = api.value(0);
            const m = api.value(1);
            const p1 = api.coord([k, m]);
            const p2 = api.coord([Math.min(k + 1, XMAX[1]), m]);
            return {
              type: "line",
              shape: { x1: p1[0], y1: p1[1], x2: p2[0], y2: p2[1] },
              style: { stroke: "#1f1f1f", lineWidth: 2.6, lineDash: [2.5, 3], lineCap: "butt" },
            };
          },
        });
      }

      const letter = LETTERS[r][c];
      if (letter) {
        graphic.push({
          type: "text", x: c === 0 ? 44 : 684, y: ROW_TOPS[r] + 13,
          style: { text: letter, font: `bold 19px '${FONT}'`, fill: TXT, align: "center", verticalAlign: "middle" },
        });
      }
    }
    if (ROW_NAMES[r]) {
      const cy = ROW_TOPS[r] + ROW_H / 2;
      graphic.push({
        type: "text", x: 20, y: cy, rotation: Math.PI / 2,
        style: { text: ROW_NAMES[r], font: `15px '${FONT}'`, fill: TXT, align: "center", verticalAlign: "middle" },
      });
      graphic.push({
        type: "text", x: 40, y: cy, rotation: Math.PI / 2,
        style: {
          text: "{a|Predicted }{i|M}{s|w}", align: "center", verticalAlign: "middle",
          rich: {
            a: { fontFamily: FONT, fontSize: 15, fill: TXT, color: TXT },
            i: { fontFamily: FONT, fontSize: 15, fontStyle: "italic", fill: TXT, color: TXT },
            s: { fontFamily: FONT, fontSize: 10.5, fontStyle: "italic", fill: TXT, color: TXT, padding: [7, 0, 0, 0] },
          },
        },
      });
    }
  }

  return {
    animation: false,
    backgroundColor: "#ffffff",
    legend: {
      data: ["c0", "c1", "c2", "c3", "c4"],
      left: 165, top: 9,
      icon: "rect", itemWidth: 34, itemHeight: 3, itemGap: 38,
      padding: [8, 10, 8, 6],
      borderColor: "#d0d0d0", borderWidth: 1, borderRadius: 4,
      backgroundColor: "#ffffff",
      selectedMode: false,
      formatter: (name: string) => {
        const k = Number(name.slice(1));
        return `${CLASS_BOUNDS[k][0]} \u2264 {i|M}{s|w} < ${CLASS_BOUNDS[k][1]}`;
      },
      textStyle: {
        fontFamily: FONT, fontSize: 15, color: TXT, padding: [0, 0, 0, 9],
        rich: {
          i: { fontFamily: FONT, fontSize: 15, fontStyle: "italic", color: TXT },
          s: { fontFamily: FONT, fontSize: 10.5, fontStyle: "italic", color: TXT, padding: [7, 0, 0, 0] },
        },
      },
    },
    grid, xAxis, yAxis, series, graphic,
  };
}

export default function App() {
  const ref = useRef<HTMLDivElement>(null);
  useEffect(() => {
    if (!ref.current) return;
    const chart = echarts.init(ref.current, undefined, { renderer: "svg" });
    chart.setOption(buildOption() as any);
    return () => chart.dispose();
  }, []);
  return <div ref={ref} style={{ position: "absolute", left: 0, top: 0, width: 1269, height: 1512, background: "#fff" }} />;
}
